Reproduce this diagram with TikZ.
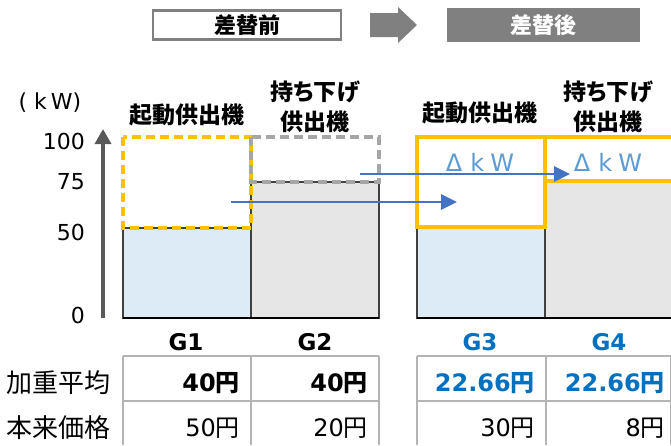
\documentclass[tikz,border=0pt]{standalone}
\usepackage{fontspec}
\setmainfont{DejaVu Sans}
\newfontfamily\jp{Noto Sans CJK JP}
\newfontfamily\jpp{Noto Sans CJK JP}[RawFeature=+palt]
\usetikzlibrary{arrows.meta}
\definecolor{orng}{HTML}{FFC000}
\definecolor{lblue}{HTML}{DDEBF7}
\definecolor{lgray}{HTML}{E7E6E6}
\definecolor{dgray}{HTML}{A6A6A6}
\definecolor{axisgray}{HTML}{595959}
\definecolor{arrblue}{HTML}{4472C4}
\definecolor{dkwblue}{HTML}{5B9BD5}
\definecolor{txtblue}{HTML}{0070C0}
\definecolor{hdrgray}{HTML}{808080}
\definecolor{tblline}{HTML}{B4B4B4}
\newcommand\yen{{\jp 円}}
\begin{document}
\begin{tikzpicture}[x=1pt,y=-1pt,
  bar/.style={draw=black!75, line width=1.1pt},
  dashbox/.style={line width=3.2pt, dash pattern=on 9pt off 5pt},
  solbox/.style={draw=orng, line width=4pt},
  flow/.style={arrblue, line width=2.8pt, -{Triangle[length=16pt,width=15pt]}},
  hdr/.style={font=\jp\bfseries\fontsize{23}{30}\selectfont, align=center, inner sep=0},
  tick/.style={font=\fontsize{22}{26}\selectfont, anchor=east, inner sep=0},
  glab/.style={font=\bfseries\fontsize{23}{26}\selectfont, inner sep=0},
  cell/.style={font=\fontsize{24}{28}\selectfont, anchor=east, inner sep=0},
  rowlab/.style={font=\jp\fontsize{26}{30}\selectfont, anchor=west, inner sep=0},
  dkw/.style={font=\fontsize{24}{28}\selectfont, text=dkwblue, inner sep=0},
  tline/.style={draw=tblline, line width=1.3pt}]
\useasboundingbox (0,0) rectangle (671,445);
\clip (0,0) rectangle (671,445);
% header
\node[draw=hdrgray, line width=2.4pt, minimum width=188pt, minimum height=29pt, inner sep=0,
      font=\jp\bfseries\fontsize{22}{26}\selectfont] (pre) at (247,25) {差替前};
\fill[hdrgray] (370,13) -- (398,13) -- (398,7) -- (417,25) -- (398,43) -- (398,37) -- (370,37) -- cycle;
\node[fill=hdrgray, minimum width=193pt, minimum height=34pt, inner sep=0, text=white,
      font=\jp\bfseries\fontsize{22}{26}\selectfont] (post) at (543.5,25) {差替後};
% axis
\coordinate (ax0) at (103,318);
\coordinate (ax1) at (103,129);
\draw[axisgray, line width=3.4pt, -{Triangle[length=15pt,width=16pt]}] (ax0) -- (ax1);
\node[font=\fontsize{22}{26}\selectfont, inner sep=0] (unit) at (50,103) {(\hspace{7pt}k\hspace{4pt}W)};
\node[tick] (t100) at (85,141) {100};
\node[tick] (t75) at (85,182) {75};
\node[tick] (t50) at (85,232) {50};
\node[tick] (t0) at (85,315) {0};
% left bars
\draw[bar, fill=lblue] (123,228) rectangle (251,318);
\draw[bar, fill=lgray] (251,182) rectangle (379,318);
\draw[dashbox, orng] (123,137) rectangle (251,228);
\draw[dashbox, dgray] (251,137) rectangle (379,182);
\draw[black, line width=2pt] (123,318) -- (379,318);
% right bars
\draw[bar, fill=lblue] (417,227) rectangle (545,318);
\draw[bar, fill=lgray] (545,181) rectangle (690,318);
\draw[black, line width=2pt] (417,318) -- (690,318);
\draw[solbox] (417,137) rectangle (545,227);
\draw[solbox] (545,137) rectangle (690,181);
\node[dkw] (d3) at (480,162) {Δ\hspace{8pt}k\hspace{6pt}W};
\node[dkw] (d4) at (608,162) {Δ\hspace{8pt}k\hspace{6pt}W};
% flows
\coordinate (a1s) at (231,202);
\coordinate (a1e) at (457,202);
\coordinate (a2s) at (360,174);
\coordinate (a2e) at (570,174);
\draw[flow] (a1s) -- (a1e);
\draw[flow] (a2s) -- (a2e);
% column headers
\node[hdr] (h1) at (187,115) {起動供出機};
\node[hdr] (h2a) at (315,92) {{\jpp 持ち下げ}};
\node[hdr] (h2b) at (315,122) {供出機};
\node[hdr] (h3) at (480,113) {起動供出機};
\node[hdr] (h4a) at (608,92) {{\jpp 持ち下げ}};
\node[hdr] (h4b) at (608,122) {供出機};
% G labels
\node[glab] (g1) at (186,342) {G1};
\node[glab] (g2) at (315,342) {G2};
\node[glab, text=txtblue] (g3) at (480,342) {G3};
\node[glab, text=txtblue] (g4) at (609,342) {G4};
% table
\draw[tline] (123,356) -- (379,356);
\draw[tline] (123,401) -- (379,401);
\draw[tline] (123,356) -- (123,445);
\draw[tline] (251,356) -- (251,445);
\draw[tline] (379,356) -- (379,445);
\draw[tline] (417,356) -- (690,356);
\draw[tline] (417,401) -- (690,401);
\draw[tline] (417,356) -- (417,445);
\draw[tline] (546,356) -- (546,445);
\draw[tline] (670.5,356) -- (670.5,445);
\node[rowlab] (r1) at (6,383) {加重平均};
\node[rowlab] (r2) at (6,428) {本来価格};
\node[cell, font=\bfseries\fontsize{24}{28}\selectfont] (c11) at (240,383) {40\yen};
\node[cell, font=\bfseries\fontsize{24}{28}\selectfont] (c12) at (368,383) {40\yen};
\node[cell, font=\bfseries\fontsize{24}{28}\selectfont, text=txtblue] (c13) at (535,383) {22.66\yen};
\node[cell, font=\bfseries\fontsize{24}{28}\selectfont, text=txtblue] (c14) at (665,383) {22.66\yen};
\node[cell] (c21) at (240,428) {50\yen};
\node[cell] (c22) at (368,428) {20\yen};
\node[cell] (c23) at (535,428) {30\yen};
\node[cell] (c24) at (665,428) {8\yen};
\end{tikzpicture}
\end{document}
